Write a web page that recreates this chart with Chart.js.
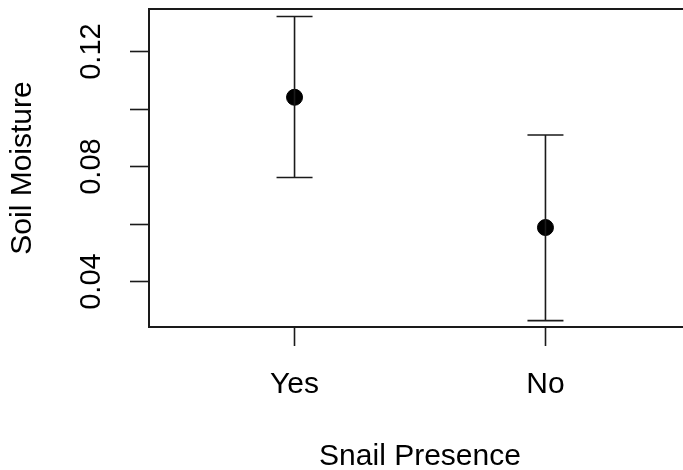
<!DOCTYPE html>
<html>
<head>
<meta charset="utf-8">
<script src="https://cdn.jsdelivr.net/npm/chart.js@4.4.0/dist/chart.umd.min.js"></script>
<style>
  html, body { margin: 0; padding: 0; background: #fff; overflow: hidden; }
  #wrap { width: 700px; height: 470px; }
</style>
</head>
<body>
<div id="wrap"><canvas id="snailChart" width="700" height="470"></canvas></div>
<script>
// data
const categories = ['Yes', 'No'];
const xPositions = [1, 2];
const meanValues = [0.1041, 0.0588];
const lowerValues = [0.0762, 0.0264];
const upperValues = [0.1322, 0.0910];
const yTickValues = [0.04, 0.06, 0.08, 0.10, 0.12];
const yTickLabels = ['0.04', '', '0.08', '', '0.12'];

const FONT = '"Liberation Sans", Arial, sans-serif';
const INK = '#1a1a1a';

// whiskers + caps, drawn through the scales
const errorBars = {
    id: 'errorBars',
    afterDatasetsDraw(chart) {
        const ctx = chart.ctx;
        const xs = chart.scales.x, ys = chart.scales.y;
        ctx.save();
        ctx.strokeStyle = INK;
        ctx.lineWidth = 1.6;
        xPositions.forEach((xv, i) => {
            const px = xs.getPixelForValue(xv);
            const lo = ys.getPixelForValue(lowerValues[i]);
            const hi = ys.getPixelForValue(upperValues[i]);
            const cap = 18;
            ctx.beginPath();
            ctx.moveTo(px, lo); ctx.lineTo(px, hi);
            ctx.moveTo(px - cap, lo); ctx.lineTo(px + cap, lo);
            ctx.moveTo(px - cap, hi); ctx.lineTo(px + cap, hi);
            ctx.stroke();
        });
        ctx.restore();
    }
};

// full box around plot region
const plotBox = {
    id: 'plotBox',
    afterDraw(chart) {
        const a = chart.chartArea;
        const ctx = chart.ctx;
        ctx.save();
        ctx.strokeStyle = INK;
        ctx.lineWidth = 2;
        ctx.strokeRect(a.left, a.top, a.right - a.left, a.bottom - a.top);
        ctx.restore();
    }
};

new Chart(document.getElementById('snailChart'), {
    type: 'scatter',
    data: {
        datasets: [{
            data: xPositions.map((x, i) => ({ x: x, y: meanValues[i] })),
            backgroundColor: '#000',
            borderColor: '#000',
            pointRadius: 8,
            pointHoverRadius: 8
        }]
    },
    options: {
        responsive: false,
        animation: false,
        layout: { padding: { top: 9, right: 8, left: 0, bottom: 0 } },
        plugins: {
            legend: { display: false },
            tooltip: { enabled: false }
        },
        scales: {
            x: {
                type: 'linear',
                min: 0.42,
                max: 2.58,
                afterBuildTicks: s => { s.ticks = xPositions.map(v => ({ value: v })); },
                afterFit: s => { s.height = 143; s.paddingLeft = 0; s.paddingRight = 0; },
                grid: { drawOnChartArea: false, drawTicks: true, tickLength: 19, tickColor: INK, tickWidth: 1.6 },
                border: { display: false },
                ticks: {
                    color: '#000',
                    padding: 21,
                    font: { family: FONT, size: 30 },
                    callback: (v, i) => categories[i]
                },
                title: {
                    display: true,
                    text: 'Snail Presence',
                    color: '#000',
                    font: { family: FONT, size: 30, lineHeight: 1.0 },
                    padding: { top: 0, bottom: -2 }
                }
            },
            y: {
                min: 0.0242,
                max: 0.1348,
                afterBuildTicks: s => { s.ticks = yTickValues.map(v => ({ value: v })); },
                afterFit: s => { s.width = 149; s.paddingTop = 0; s.paddingBottom = 0; },
                grid: { drawOnChartArea: false, drawTicks: true, tickLength: 19, tickColor: INK, tickWidth: 1.6 },
                border: { display: false },
                ticks: {
                    color: '#000',
                    padding: 10,
                    minRotation: 90,
                    maxRotation: 90,
                    crossAlign: 'center',
                    autoSkip: false,
                    font: { family: FONT, size: 29 },
                    callback: (v, i) => yTickLabels[i]
                },
                title: {
                    display: true,
                    text: 'Soil Moisture',
                    color: '#000',
                    font: { family: FONT, size: 30, lineHeight: 1.0 },
                    padding: { top: 8, bottom: 0 }
                }
            }
        }
    },
    plugins: [errorBars, plotBox]
});
</script>
</body>
</html>
